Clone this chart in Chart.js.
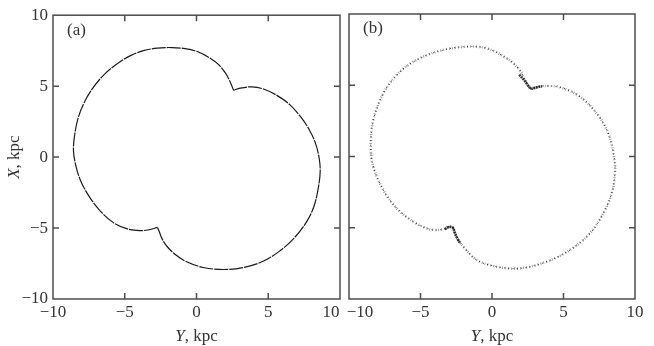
<!DOCTYPE html>
<html>
<head>
<meta charset="utf-8">
<script src="https://cdn.jsdelivr.net/npm/chart.js@4.4.1/dist/chart.umd.min.js"></script>
<style>
  html, body { margin: 0; padding: 0; background: #fff; }
  #wrap { position: relative; width: 654px; height: 346px; }
  #wrap canvas { position: absolute; left: 0; top: 0; }
</style>
</head>
<body>
<div id="wrap">
  <canvas id="chartA" width="654" height="346"></canvas>
  <canvas id="chartB" width="654" height="346"></canvas>
</div>
<script>
// axis ticks
const tickValues = [-10, -5, 0, 5, 10];
const tickLabels = ['−10', '−5', '0', '5', '10'];
const innerTicks = [-5, 0, 5];

// panel (a): Y, kpc (horizontal) and X, kpc (vertical), two arcs between the cusps
const aArc1Y = [2.58, 3.04, 3.86, 4.67, 5.6, 6.5, 7.25, 7.85, 8.3, 8.55, 8.62, 8.5, 8.17, 7.59, 6.77, 5.72, 4.56, 3.27, 1.87, 0.48, -0.69, -1.5, -2.05, -2.38, -2.58, -2.72];
const aArc1X = [4.71, 4.86, 4.95, 4.8, 4.35, 3.7, 2.85, 1.95, 0.95, -0.1, -1.0, -2.1, -3.52, -4.69, -5.74, -6.68, -7.38, -7.78, -7.92, -7.78, -7.38, -6.85, -6.3, -5.8, -5.3, -4.95];
const aArc2Y = [-2.72, -3.3, -3.95, -4.88, -5.82, -6.75, -7.45, -8.03, -8.38, -8.57, -8.5, -8.25, -7.8, -7.2, -6.4, -5.5, -4.6, -3.7, -2.75, -1.7, -0.8, 0.1, 0.9, 1.5, 2.0, 2.35, 2.58];
const aArc2X = [-4.95, -5.12, -5.18, -5.04, -4.6, -3.75, -2.82, -1.77, -0.72, 0.4, 1.5, 2.75, 3.9, 4.9, 5.85, 6.6, 7.15, 7.5, 7.68, 7.72, 7.64, 7.42, 7.0, 6.55, 5.95, 5.3, 4.71];

// panel (b): same coordinates, scattered points
const bArc1Y = [2.66, 3.1, 3.59, 4.76, 6.15, 7.32, 8.13, 8.53, 8.6, 8.37, 7.78, 6.85, 5.45, 3.82, 1.96, 0.33, -1.07, -2.0, -2.36, -2.59, -2.7];
const bArc1X = [4.78, 4.86, 4.95, 4.86, 4.2, 3.03, 1.63, 0, -1.18, -2.58, -3.99, -5.39, -6.56, -7.38, -7.85, -7.73, -7.26, -6.33, -5.86, -5.39, -5.0];
const bArc2Y = [-2.7, -3.05, -3.4, -4.34, -5.5, -6.66, -7.6, -8.3, -8.48, -8.3, -7.6, -6.66, -5.5, -3.87, -2.0, -0.37, 1.03, 1.84, 2.31, 2.66];
const bArc2X = [-5.0, -4.93, -5.11, -5.11, -4.57, -3.64, -2.35, -0.72, 0.69, 2.56, 4.43, 5.72, 6.65, 7.35, 7.7, 7.59, 6.89, 6.19, 5.37, 4.78];
// denser clumps of points at the two cusps of (b)
const bTopCuspY = [1.9, 2.3, 2.62, 2.8, 3.1, 3.5];
const bTopCuspX = [5.75, 5.3, 4.85, 4.76, 4.85, 4.93];
const bLowCuspY = [-3.3, -3.0, -2.75, -2.62, -2.45, -2.25];
const bLowCuspX = [-5.1, -4.95, -4.98, -5.3, -5.7, -6.05];

const serif = '"Liberation Serif", "Times New Roman", serif';
const textColor = '#333';
const fontSize = 17;

function pts(ys, xs) {
    return ys.map((v, i) => ({ x: v, y: xs[i] }));
}

function drawTitle(ctx, cx, cy, rot, letter) {
    ctx.save();
    ctx.translate(cx, cy);
    ctx.rotate(rot);
    const ital = 'italic ' + fontSize + 'px ' + serif;
    const norm = fontSize + 'px ' + serif;
    ctx.font = ital;
    const w1 = ctx.measureText(letter).width;
    ctx.font = norm;
    const w2 = ctx.measureText(', kpc').width;
    const x0 = -(w1 + w2) / 2;
    ctx.textAlign = 'left';
    ctx.textBaseline = 'middle';
    ctx.fillStyle = textColor;
    ctx.font = ital;
    ctx.fillText(letter, x0, 0);
    ctx.font = norm;
    ctx.fillText(', kpc', x0 + w1, 0);
    ctx.restore();
}

// box round the plot, inward ticks, x labels, panel letter and axis titles
const frame = {
    id: 'frame',
    afterDraw(chart, args, opts) {
        const { ctx, chartArea: a, scales: { x, y } } = chart;
        ctx.save();
        ctx.strokeStyle = '#4d4d4d';
        ctx.lineWidth = 1.5;
        ctx.strokeRect(a.left, a.top, a.right - a.left, a.bottom - a.top);
        ctx.beginPath();
        innerTicks.forEach(v => {
            const px = x.getPixelForValue(v);
            const py = y.getPixelForValue(v);
            ctx.moveTo(px, a.bottom); ctx.lineTo(px, a.bottom - 6);
            ctx.moveTo(px, a.top); ctx.lineTo(px, a.top + 6);
            ctx.moveTo(a.left, py); ctx.lineTo(a.left + 6, py);
            ctx.moveTo(a.right, py); ctx.lineTo(a.right - 6, py);
        });
        ctx.stroke();
        ctx.fillStyle = textColor;
        ctx.font = fontSize + 'px ' + serif;
        ctx.textBaseline = 'middle';
        ctx.textAlign = 'center';
        tickValues.forEach((v, i) => {
            ctx.fillText(tickLabels[i], x.getPixelForValue(v) + opts.shift[i], a.bottom + 14);
        });
        ctx.textAlign = 'left';
        ctx.fillText(opts.label, a.left + 14, a.top + 15);
        ctx.restore();
        drawTitle(ctx, (a.left + a.right) / 2, 337, 0, 'Y');
        if (opts.yTitle) drawTitle(ctx, 15, (a.top + a.bottom) / 2, -Math.PI / 2, 'X');
    }
};

function makeOptions(pad, showY, label, shift) {
    return {
        responsive: false,
        animation: false,
        layout: { padding: pad },
        plugins: {
            legend: { display: false },
            tooltip: { enabled: false },
            frame: { label: label, yTitle: showY, shift: shift }
        },
        scales: {
            x: {
                type: 'linear',
                min: -10,
                max: 10,
                afterFit: s => { s.height = 47; s.paddingLeft = 0; s.paddingRight = 0; },
                grid: { display: false, drawTicks: false },
                border: { display: false },
                ticks: { display: false }
            },
            y: {
                type: 'linear',
                display: showY,
                min: -10,
                max: 10,
                afterBuildTicks: s => { s.ticks = tickValues.map(v => ({ value: v })); },
                afterFit: s => { if (showY) s.width = 53; },
                grid: { display: false, drawTicks: false },
                border: { display: false },
                ticks: {
                    autoSkip: false,
                    padding: 5,
                    color: textColor,
                    font: { family: serif, size: fontSize },
                    callback: (v, i) => tickLabels[i]
                }
            }
        }
    };
}

function arc(ys, xs, width, dash, color) {
    return {
        data: pts(ys, xs),
        showLine: true,
        tension: 0.35,
        borderColor: color,
        borderWidth: width,
        borderDash: dash,
        pointRadius: 0
    };
}

new Chart(document.getElementById('chartA').getContext('2d'), {
    type: 'scatter',
    data: {
        datasets: [
            arc(aArc1Y, aArc1X, 1.2, [14, 1], '#1a1a1a'),
            arc(aArc2Y, aArc2X, 1.2, [14, 1], '#1a1a1a')
        ]
    },
    options: makeOptions({ left: 0, right: 314, top: 14, bottom: 0 }, true, '(a)', [0, 0, 0, 0, -9]),
    plugins: [frame]
});

new Chart(document.getElementById('chartB').getContext('2d'), {
    type: 'scatter',
    data: {
        datasets: [
            arc(bArc1Y, bArc1X, 2.6, [0.8, 2.2], 'rgba(0,0,0,0.45)'),
            arc(bArc2Y, bArc2X, 2.6, [0.8, 2.2], 'rgba(0,0,0,0.45)'),
            arc(bArc1Y, bArc1X, 1.2, [1, 3.3], 'rgba(0,0,0,0.7)'),
            arc(bArc2Y, bArc2X, 1.2, [1, 3.3], 'rgba(0,0,0,0.7)'),
            arc(bTopCuspY, bTopCuspX, 2.6, [2, 0.6], 'rgba(0,0,0,0.75)'),
            arc(bLowCuspY, bLowCuspX, 2.6, [2, 0.6], 'rgba(0,0,0,0.75)')
        ]
    },
    options: makeOptions({ left: 349, right: 19, top: 14, bottom: 0 }, false, '(b)', [11, 0, 0, 0, 0]),
    plugins: [frame]
});
</script>
</body>
</html>
